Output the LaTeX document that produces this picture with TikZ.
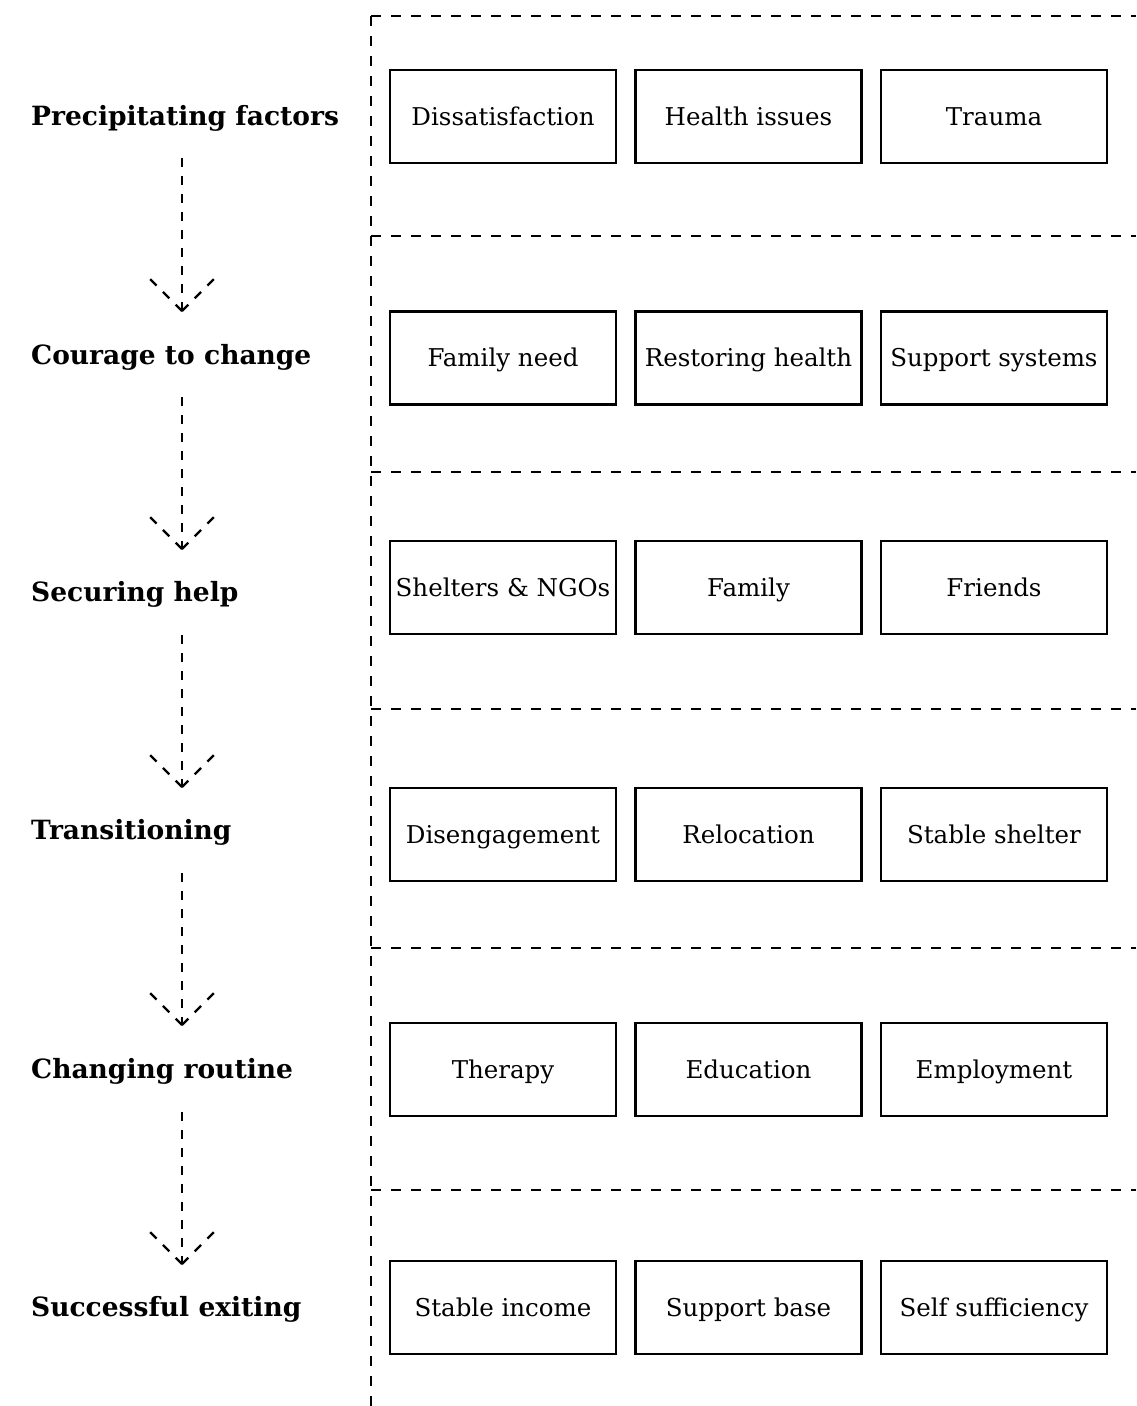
\documentclass[tikz,border=0pt]{standalone}
\usepackage{fontspec}
\setmainfont{DejaVu Serif}
\usetikzlibrary{calc}
\begin{document}
\begin{tikzpicture}[x=1pt,y=-1pt,
  dashline/.style={line width=2.3pt,dash pattern=on 10pt off 10pt},
  itembox/.style={draw,line width=2.3pt,minimum width=226pt,minimum height=93pt,inner sep=0pt,
    text height=17.6pt,text depth=0pt,font=\fontsize{24.5}{29}\selectfont},
  stage/.style={anchor=west,inner sep=0pt,text height=19pt,text depth=0pt,
    font=\fontsize{26.5}{31}\selectfont\bfseries},
  flow/.style={line width=2.3pt,dash pattern=on 9pt off 9pt}]
\useasboundingbox (0,0) rectangle (1136,1406);
% frame
\coordinate (ftl) at (371,16);
\coordinate (fbl) at (371,1406);
\coordinate (ftr) at (1136,16);
\draw[dashline] (ftl) -- (fbl);
\draw[dashline] (ftl) -- (ftr);
\foreach \y [count=\i] in {236,472,709,948,1190}{
  \coordinate (sl\i) at (371,\y);
  \coordinate (sr\i) at (1136,\y);
  \draw[dashline] (sl\i) -- (sr\i);
}
% stage labels
\node[stage] (s1) at (31,116) {Precipitating factors};
\node[stage] (s2) at (31,355) {Courage to change};
\node[stage] (s3) at (31,592) {Securing help};
\node[stage] (s4) at (31,830) {Transitioning};
\node[stage] (s5) at (31,1069) {Changing routine};
\node[stage] (s6) at (31,1307) {Successful exiting};
% boxes
\node[itembox] (b11) at (503,116.5) {Dissatisfaction};
\node[itembox] (b12) at (748.5,116.5) {Health issues};
\node[itembox] (b13) at (994,116.5) {Trauma};
\node[itembox] (b21) at (503,358) {Family need};
\node[itembox] (b22) at (748.5,358) {Restoring health};
\node[itembox] (b23) at (994,358) {Support systems};
\node[itembox] (b31) at (503,587.5) {Shelters \& NGOs};
\node[itembox] (b32) at (748.5,587.5) {Family};
\node[itembox] (b33) at (994,587.5) {Friends};
\node[itembox] (b41) at (503,834.5) {Disengagement};
\node[itembox] (b42) at (748.5,834.5) {Relocation};
\node[itembox] (b43) at (994,834.5) {Stable shelter};
\node[itembox] (b51) at (503,1069.5) {Therapy};
\node[itembox] (b52) at (748.5,1069.5) {Education};
\node[itembox] (b53) at (994,1069.5) {Employment};
\node[itembox] (b61) at (503,1307.5) {Stable income};
\node[itembox] (b62) at (748.5,1307.5) {Support base};
\node[itembox] (b63) at (994,1307.5) {Self sufficiency};
% flow arrows
\foreach \ys/\ye [count=\i] in {158/311, 397/549, 635/787, 873/1025, 1112/1264}{
  \coordinate (as\i) at (182,\ys);
  \coordinate (ae\i) at (182,\ye);
  \draw[flow] (as\i) -- (ae\i);
  \draw[flow] (ae\i) -- ++(-32,-32);
  \draw[flow] (ae\i) -- ++(32,-32);
}
\end{tikzpicture}
\end{document}
